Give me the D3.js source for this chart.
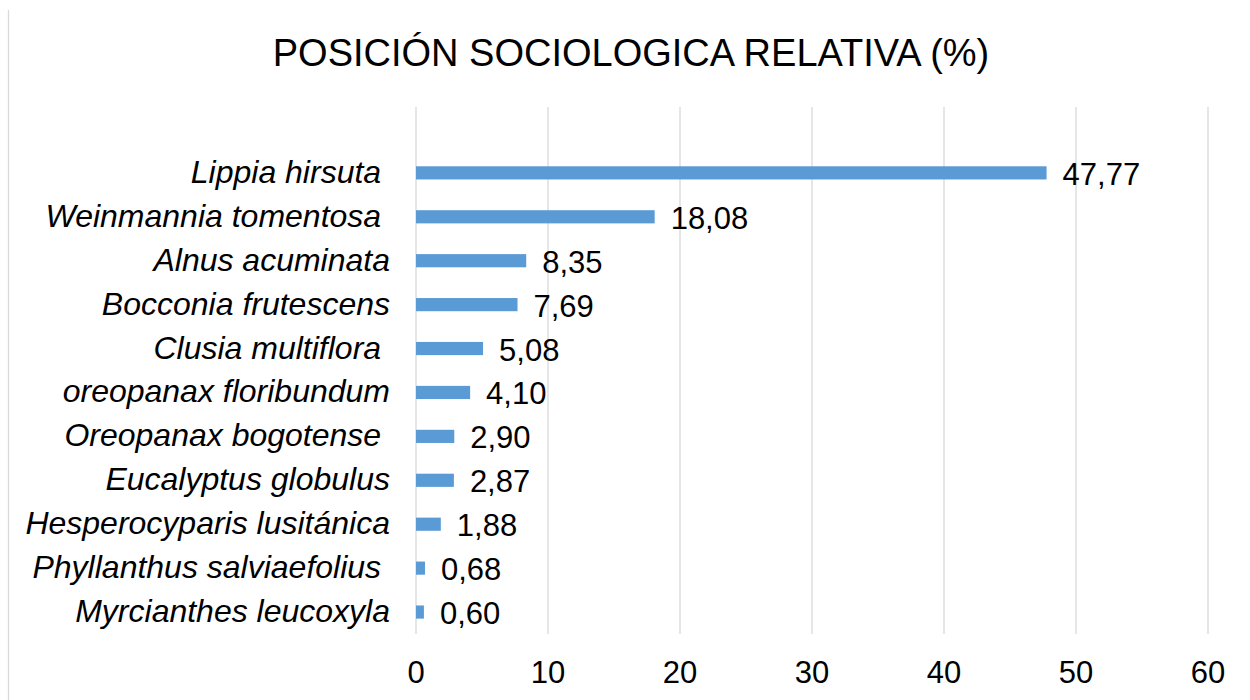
<!DOCTYPE html>
<meta charset="utf-8">
<style>

body {
  margin: 0;
  background: #fff;
}

svg {
  font-family: "Liberation Sans", Arial, sans-serif;
}

.grid line {
  stroke: #d9d9d9;
  stroke-width: 1.3;
}

.cat {
  font-style: italic;
  white-space: pre;
}

</style>
<svg width="1250" height="700"></svg>
<script src="https://d3js.org/d3.v7.min.js"></script>
<script>

// names keep the trailing spaces the source labels had
var species = [
  "Lippia hirsuta ",
  "Weinmannia tomentosa ",
  "Alnus acuminata",
  "Bocconia frutescens",
  "Clusia multiflora ",
  "oreopanax floribundum",
  "Oreopanax bogotense ",
  "Eucalyptus globulus",
  "Hesperocyparis lusitánica",
  "Phyllanthus salviaefolius ",
  "Myrcianthes leucoxyla"
];

var values = [47.77, 18.08, 8.35, 7.69, 5.08, 4.10, 2.90, 2.87, 1.88, 0.68, 0.60];

var xTicks = [0, 10, 20, 30, 40, 50, 60];

var title = "POSICIÓN SOCIOLOGICA RELATIVA (%)";

var svg = d3.select("svg"),
    width = +svg.attr("width"),
    height = +svg.attr("height"),
    plotLeft = 416, plotRight = 1208,
    plotTop = 107, plotBottom = 634;

var formatValue = function(v) { return d3.format(".2f")(v).replace(".", ","); };

var x = d3.scaleLinear()
    .domain([0, 60])
    .range([plotLeft, plotRight]);

// one empty slot sits above the first bar, as in the original
var slot = (plotBottom - plotTop) / (species.length + 1);

var y = d3.scaleBand()
    .domain(species)
    .range([plotTop + slot, plotBottom])
    .paddingInner(0.7)
    .paddingOuter(0.35);

// chart frame edge on the left
svg.append("line")
    .attr("x1", 8.5).attr("x2", 8.5)
    .attr("y1", 10).attr("y2", height)
    .attr("stroke", "#d9d9d9")
    .attr("stroke-width", 1.3);

svg.append("text")
    .attr("x", 631)
    .attr("y", 66)
    .attr("text-anchor", "middle")
    .style("font-size", "38px")
    .attr("fill", "#000")
    .text(title);

svg.append("g")
    .attr("class", "grid")
  .selectAll("line")
  .data(xTicks)
  .enter().append("line")
    .attr("x1", function(d) { return x(d); })
    .attr("x2", function(d) { return x(d); })
    .attr("y1", plotTop)
    .attr("y2", plotBottom);

svg.append("g")
  .selectAll("text")
  .data(xTicks)
  .enter().append("text")
    .attr("x", function(d) { return x(d); })
    .attr("y", 683)
    .attr("text-anchor", "middle")
    .style("font-size", "31px")
    .text(function(d) { return d; });

var row = svg.append("g")
  .selectAll("g")
  .data(species)
  .enter().append("g")
    .attr("transform", function(d) { return "translate(0," + y(d) + ")"; });

row.append("rect")
    .attr("x", x(0))
    .attr("height", y.bandwidth())
    .attr("width", function(d, i) { return x(values[i]) - x(0); })
    .attr("fill", "#5b9bd5");

row.append("text")
    .attr("class", "cat")
    .attr("x", 390)
    .attr("y", y.bandwidth() / 2 + 10)
    .attr("text-anchor", "end")
    .style("font-size", "32px")
    .text(function(d) { return d; });

row.append("text")
    .attr("x", function(d, i) { return x(values[i]) + 16; })
    .attr("y", y.bandwidth() / 2 + 12)
    .style("font-size", "31px")
    .text(function(d, i) { return formatValue(values[i]); });

</script>
